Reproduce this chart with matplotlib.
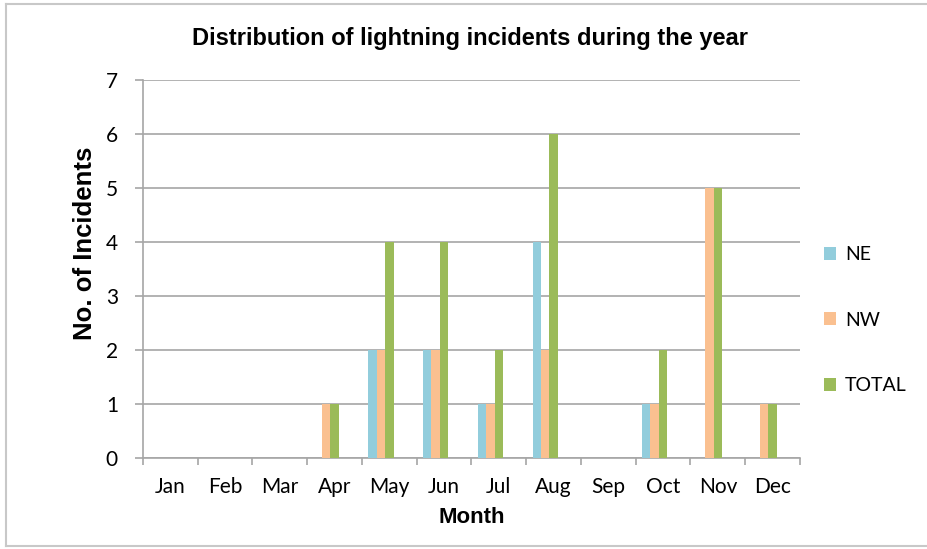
import matplotlib
matplotlib.use("Agg")
import matplotlib.pyplot as plt
from matplotlib.patches import Patch
from matplotlib.lines import Line2D
import numpy as np

months = ["Jan", "Feb", "Mar", "Apr", "May", "Jun", "Jul", "Aug", "Sep", "Oct", "Nov", "Dec"]
ne = [0, 0, 0, 0, 2, 2, 1, 4, 0, 1, 0, 0]
nw = [0, 0, 0, 1, 2, 2, 1, 2, 0, 1, 5, 1]
total = [0, 0, 0, 1, 4, 4, 2, 6, 0, 2, 5, 1]
series_names = ["NE", "NW", "TOTAL"]
colors = ["#92CDDC", "#FAC090", "#9BBB59"]

grid_c = "#A6A6A6"
tick_font = "Lato"
tick_size = 15

fig = plt.figure(figsize=(9.28, 5.49), dpi=100)
ax = fig.add_axes([143 / 928, 1 - 458 / 549, (800 - 143) / 928, (458 - 80) / 549])

x = np.arange(len(months))
w = 1 / 6.5
for off, vals, c in zip([-2, -1, 0], [ne, nw, total], colors):
    ax.bar(x + off * w, vals, width=w, color=c, align="center", linewidth=0, zorder=3)

ax.set_xlim(-0.5, len(months) - 0.5)
ax.set_ylim(0, 7)
ax.set_yticks(range(0, 8))
ax.set_xticks(x)
ax.set_xticklabels(months, family=tick_font, fontsize=tick_size)
ax.set_xticks(np.arange(-0.5, len(months)), minor=True)
ax.tick_params(axis="x", which="major", length=0, pad=14)
ax.tick_params(axis="x", which="minor", length=5, width=1.2, color=grid_c, direction="out")
ax.tick_params(axis="y", length=6, width=1.2, color=grid_c, direction="out", pad=12)
for lab in ax.get_yticklabels():
    lab.set_family(tick_font)
    lab.set_fontsize(tick_size)

ax.grid(axis="y", color=grid_c, linewidth=1.2, zorder=0)
ax.set_axisbelow(True)
for s in ["top", "right"]:
    ax.spines[s].set_visible(False)
for s in ["left", "bottom"]:
    ax.spines[s].set_color(grid_c)
    ax.spines[s].set_linewidth(1.2)

ax.set_xlabel("Month", family="Liberation Sans", fontweight="bold", fontsize=16, labelpad=7)
ax.set_ylabel("No. of Incidents", family="Liberation Sans", fontweight="bold", fontsize=18.5)
ax.yaxis.set_label_coords(-0.070, 0.569)

fig.text(470 / 928, 1 - 38 / 549, "Distribution of lightning incidents during the year",
         family="Liberation Sans", fontweight="bold", fontsize=17, ha="center", va="center")

handles = [Patch(facecolor=c, edgecolor="none") for c in colors]
ax.legend(handles, series_names, loc="center left", bbox_to_anchor=(816 / 928, 1 - 320 / 549),
          bbox_transform=fig.transFigure, frameon=False, prop={"family": tick_font, "size": 14},
          handlelength=0.65, handleheight=0.65, handletextpad=0.45, labelspacing=2.5,
          borderaxespad=0)

# outer frame
frame_c = "#C8C8C8"
fig.add_artist(Line2D([6.5 / 928, 6.5 / 928], [1 - 4 / 549, 1 - 546 / 549], color=frame_c, lw=1.5,
                      transform=fig.transFigure))
fig.add_artist(Line2D([6.5 / 928, 1], [1 - 4 / 549, 1 - 4 / 549], color=frame_c, lw=1.5,
                      transform=fig.transFigure))
fig.add_artist(Line2D([6.5 / 928, 1], [1 - 546 / 549, 1 - 546 / 549], color=frame_c, lw=1.5,
                      transform=fig.transFigure))

fig.savefig("out.png", dpi=100)
